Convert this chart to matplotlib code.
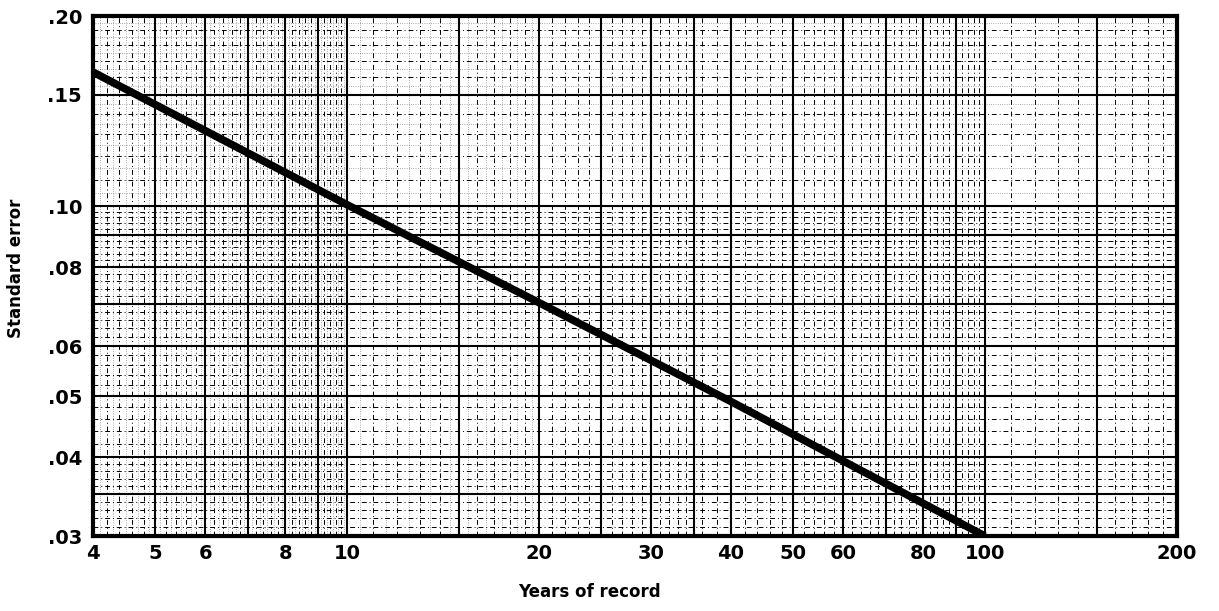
import matplotlib
matplotlib.use("Agg")
import matplotlib.pyplot as plt
from matplotlib.ticker import NullLocator
import numpy as np

# line (years of record vs standard error)
years = [4, 10, 20, 40, 100]
std_err = [0.163, 0.1005, 0.0703, 0.0490, 0.0300]

x_ticks = [4, 5, 6, 8, 10, 20, 30, 40, 50, 60, 80, 100, 200]
x_labels = ['4', '5', '6', '8', '10', '20', '30', '40', '50', '60', '80', '100', '200']
y_ticks = [0.03, 0.04, 0.05, 0.06, 0.08, 0.10, 0.15, 0.20]
y_labels = ['.03', '.04', '.05', '.06', '.08', '.10', '.15', '.20']

# graph paper rulings
x_heavy = [5, 6, 7, 8, 9, 10, 15, 20, 25, 30, 35, 40, 50, 60, 70, 80, 90, 100, 150]
x_minor = list(np.arange(4.2, 10, 0.2)) + list(range(11, 35)) + list(range(36, 100, 2)) + list(range(110, 200, 10))
x_fine = list(np.arange(4.1, 10, 0.2)) + list(np.arange(10.5, 20, 1.0))
y_heavy = [0.035, 0.04, 0.05, 0.06, 0.07, 0.08, 0.09, 0.10, 0.15]
y_minor = list(np.arange(0.031, 0.04, 0.001)) + list(np.arange(0.042, 0.10, 0.002)) + list(np.arange(0.11, 0.20, 0.01))
y_fine = list(np.arange(0.105, 0.20, 0.01))

fig = plt.figure(figsize=(12.19, 6.11), dpi=100)
ax = fig.add_axes([0.0763, 0.1227, 0.8892, 0.8511])
ax.set_xscale('log')
ax.set_yscale('log')
ax.set_xlim(4, 200)
ax.set_ylim(0.03, 0.20)

for v in x_fine:
    ax.axvline(v, color='black', lw=0.4, ls=(0, (1, 3)), zorder=1)
for v in y_fine:
    ax.axhline(v, color='black', lw=0.4, ls=(0, (1, 3)), zorder=1)
for v in x_minor:
    ax.axvline(v, color='black', lw=0.7, ls=(0, (5, 3, 1, 3)), zorder=1)
for v in y_minor:
    ax.axhline(v, color='black', lw=0.7, ls=(0, (5, 3, 1, 3)), zorder=1)
for v in x_heavy:
    ax.axvline(v, color='black', lw=1.5, zorder=2)
for v in y_heavy:
    ax.axhline(v, color='black', lw=1.5, zorder=2)

ax.plot(years, std_err, color='black', lw=5.5, solid_capstyle='butt', zorder=3)

for s in ax.spines.values():
    s.set_linewidth(3)
    s.set_zorder(4)

ax.xaxis.set_minor_locator(NullLocator())
ax.yaxis.set_minor_locator(NullLocator())
ax.set_xticks(x_ticks)
ax.set_xticklabels(x_labels)
ax.set_yticks(y_ticks)
ax.set_yticklabels(y_labels)
ax.tick_params(axis='both', length=0, labelsize=14)
ax.tick_params(axis='x', pad=6)
ax.tick_params(axis='y', pad=8)
for t in ax.get_xticklabels() + ax.get_yticklabels():
    t.set_fontweight('bold')

ax.set_xlabel('Years of record', fontsize=12, fontweight='bold')
ax.xaxis.set_label_coords(0.458, -0.09)
ax.set_ylabel('Standard error', fontsize=12, fontweight='bold')
ax.yaxis.set_label_coords(-0.063, 0.515)

fig.savefig('out.png', dpi=100)
